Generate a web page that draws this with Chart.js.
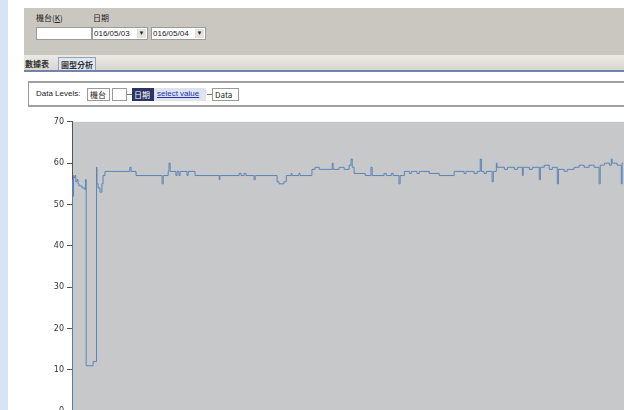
<!DOCTYPE html>
<html>
<head>
<meta charset="utf-8">
<script src="https://cdn.jsdelivr.net/npm/chart.js@4"></script>
<style>
  html, body { margin: 0; padding: 0; background: #fff; overflow: hidden; }
  body { width: 624px; height: 410px; position: relative; font-family: "Liberation Sans", "Noto Sans CJK TC", sans-serif; font-size: 9px; color: #222; }
  .strip { position: absolute; left: 0; top: 0; width: 8px; height: 410px; background: #d6e4f4; }
  .panel { position: absolute; left: 24px; top: 8px; width: 600px; height: 47px; background: #cac7c0; }
  .lbl { position: absolute; top: 4px; font-size: 8px; font-family: "Noto Sans CJK TC", sans-serif; }
  .input { position: absolute; top: 19px; height: 13px; background: #fff; border: 1px solid #9a9a9a; box-sizing: border-box; font-size: 8px; line-height: 11px; padding-left: 1px; }
  .arrow { position: absolute; right: 1px; top: 1px; width: 9px; height: 9px; background: #e4e2dc; font-size: 6px; line-height: 9px; text-align: center; }
  .tabbar { position: absolute; left: 24px; top: 55px; width: 600px; height: 15px; background: linear-gradient(#eceae6, #d9d6cf); border-bottom: 2px solid #7384ac; }
  .tab { position: absolute; top: 2px; height: 13px; font-size: 8px; line-height: 13px; font-family: "Noto Sans CJK TC", sans-serif; font-weight: bold; color: #333; }
  .tab.sel { background: #dfe6ee; border: 1px solid #8fa3c0; border-bottom: none; box-sizing: border-box; padding: 0 2px; }
  .levels { position: absolute; left: 28px; top: 81px; width: 600px; height: 26px; border: 1px solid #999; border-right: none; box-sizing: border-box; border-top: 2px solid #a0a0a0; border-bottom: 2px solid #a0a0a0; }
  .lv { position: absolute; top: 5px; height: 13px; font-size: 8px; line-height: 12px; box-sizing: border-box; white-space: nowrap; }
  .box { border: 1px solid #9a9a9a; background: #fff; padding: 0 2px; font-family: "Noto Sans CJK TC", "Liberation Sans", sans-serif; }
  .dash { position: absolute; top: 11px; width: 5px; height: 1px; background: #777; }
  #wrap { position: absolute; left: 0; top: 114px; width: 624px; height: 305px; }
</style>
</head>
<body>
<div class="strip"></div>
<div class="panel">
  <div class="lbl" style="left:12px">機台(<u>K</u>)</div>
  <div class="lbl" style="left:69px">日期</div>
  <div class="input" style="left:12px;width:56px"></div>
  <div class="input" style="left:68px;width:56px">016/05/03<span class="arrow">▼</span></div>
  <div class="input" style="left:127px;width:55px">016/05/04<span class="arrow">▼</span></div>
</div>
<div class="tabbar">
  <div class="tab" style="left:1px">數據表</div>
  <div class="tab sel" style="left:34px">圖型分析</div>
</div>
<div class="levels">
  <div class="lv" style="left:7px">Data Levels:</div>
  <div class="lv box" style="left:58px;width:23px">機台</div>
  <div class="lv box" style="left:83px;width:15px"></div>
  <div class="dash" style="left:98px"></div>
  <div class="lv box" style="left:103px;width:22px;padding:0 1px;background:#2a3566;color:#fff;border-color:#2a3566">日期</div>
  <div class="lv" style="left:125px;width:52px;background:#dfe3ef;color:#2233aa;text-decoration:underline;padding-left:3px">select value</div>
  <div class="dash" style="left:178px"></div>
  <div class="lv box" style="left:183px;width:27px">Data</div>
</div>
<div id="wrap"><canvas id="chart"></canvas></div>
<script>
// sample times (minutes from 05/03 00:00) and readings
const times = [0, 1, 3, 4, 5, 8, 10, 13, 16, 18, 26, 34, 35, 37, 52, 55, 63, 64, 65, 68,
  73, 78, 81, 86, 151, 154, 167, 235, 238, 251, 253, 256, 271, 274, 279, 282, 300, 303, 321, 384,
  386, 436, 441, 449, 454, 475, 478, 535, 540, 553, 559, 572, 574, 592, 595, 626, 634, 645, 679, 681,
  697, 710, 723, 728, 731, 736, 765, 780, 783, 814, 820, 833, 838, 853, 856, 867, 880, 885, 900, 906,
  932, 958, 997, 1023, 1028, 1049, 1057, 1065, 1068, 1075, 1081, 1096, 1099, 1107, 1109, 1128, 1136, 1154, 1162, 1175,
  1177, 1193, 1201, 1219, 1222, 1232, 1245, 1253, 1266, 1269, 1284, 1292, 1310, 1323, 1336, 1349, 1362, 1375, 1378, 1389,
  1402, 1407, 1409, 1422, 1433, 1435, 1438];
const values = [0, 56, 52, 57, 56.5, 57, 55.5, 56, 55, 54.5, 54, 53.5, 56, 11, 11, 12, 12, 59, 55, 54,
  53, 55, 57, 58, 59, 58, 57, 55, 57, 58, 60, 58, 57, 58, 57, 58, 57, 58, 57, 56,
  57, 57.5, 57, 57.5, 57, 56, 57, 55.5, 55, 55.5, 57, 57.5, 57, 57.5, 57, 58.5, 59, 58.5, 60, 58.5,
  59, 58.5, 59.5, 61, 59, 57.5, 57, 59, 57, 57.5, 57, 57.5, 57, 55, 57, 58, 57.5, 58, 57.5, 58,
  57.5, 57, 58, 57.5, 58, 57.5, 58, 61, 58, 57.5, 58, 55.5, 58, 60, 59, 58.5, 59, 58.5, 59, 57,
  59, 58.5, 59, 56, 59, 59.5, 58.5, 59, 55, 58.5, 58, 58.5, 59, 59.5, 59, 59.5, 59, 55, 59.5, 60,
  59.5, 61, 60, 59.5, 55, 60, 60];
const yTicks = [0, 10, 20, 30, 40, 50, 60, 70];

const points = times.map((t, i) => ({ x: t, y: values[i] }));

// gray plot background like the original control
const plotBg = {
  id: 'plotBg',
  beforeDraw(chart) {
    const a = chart.chartArea, ctx = chart.ctx;
    ctx.save();
    ctx.fillStyle = '#c7c8ca';
    ctx.fillRect(a.left, a.top, a.right - a.left, a.bottom - a.top);
    ctx.restore();
  }
};

new Chart(document.getElementById('chart'), {
  type: 'line',
  data: {
    datasets: [{
      data: points,
      borderColor: '#5b84b8',
      borderWidth: 1,
      pointRadius: 0,
      stepped: 'before',
      fill: false
    }]
  },
  options: {
    responsive: true,
    maintainAspectRatio: false,
    animation: false,
    layout: { padding: { top: 0, right: 0, bottom: 0, left: 0 } },
    plugins: { legend: { display: false }, tooltip: { enabled: false } },
    scales: {
      x: { type: 'linear', min: 0, max: 1440, display: false },
      y: {
        min: 0, max: 70,
        afterFit(scale) { scale.width = 72; },
        afterBuildTicks(scale) { scale.ticks = yTicks.map(v => ({ value: v })); },
        border: { color: '#555', width: 1 },
        grid: { drawOnChartArea: false, tickLength: 5, color: '#555' },
        ticks: { color: '#333', font: { family: 'DejaVu Sans', size: 8 }, padding: 3 }
      }
    }
  },
  plugins: [plotBg]
});
</script>
</body>
</html>
